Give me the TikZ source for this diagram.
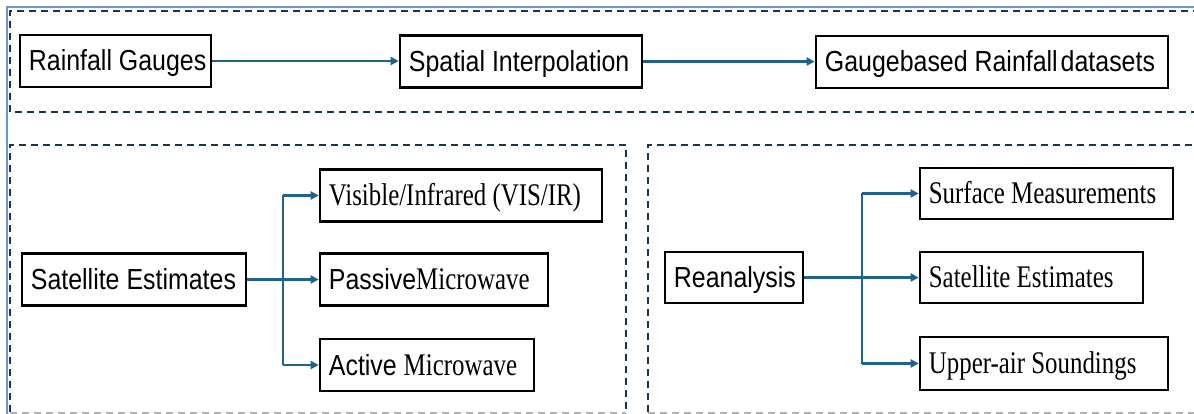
\documentclass[tikz,border=0pt]{standalone}
\usepackage{fontspec}
\setmainfont{Liberation Sans}
\newfontfamily\sansf[FakeStretch=0.86]{Liberation Sans}
\newfontfamily\seriff[FakeStretch=0.79]{Liberation Serif}
\usetikzlibrary{arrows.meta}
\definecolor{arrc}{HTML}{1F6488}
\definecolor{dashc}{HTML}{17364A}
\definecolor{framec}{HTML}{6A95CC}
\tikzset{
  box/.style={draw=black, line width=2.6pt, minimum height=52pt, inner sep=0pt},
  lbl/.style={anchor=base west, xshift=10pt, yshift=-10pt, inner sep=0pt, font=\fontsize{29}{31}\selectfont\sansf},
  sflbl/.style={lbl, font=\fontsize{31.5}{33}\selectfont\seriff},
  arr/.style={draw=arrc, line width=2.2pt, -{Triangle[length=8pt,width=8pt]}},
  brline/.style={draw=arrc, line width=2.2pt},
  mainline/.style={draw=arrc, line width=3.4pt},
  grp/.style={draw=dashc, line width=2.4pt, dash pattern=on 7pt off 5pt},
  grpbot/.style={draw=gray!60, line width=1.8pt, dash pattern=on 7pt off 5pt},
}
\begin{document}
\begin{tikzpicture}[x=1pt,y=-1pt]
\clip (0,0) rectangle (1194,414);
\fill[white] (0,0) rectangle (1194,414);
% outer frame
\draw[framec, line width=2pt] (7,414) -- (7,7) -- (1200,7);
% group frames
\draw[grp] (1200,11) -- (10,11) -- (10,112) -- (1200,112);
\draw[grp] (10,412) -- (10,145) -- (626,145) -- (626,412);
\draw[grpbot] (10,413) -- (626,413);
\draw[grp] (648,412) -- (648,145) -- (1200,145);
\draw[grpbot] (648,413) -- (1200,413);
% top row
\node[box, minimum width=191pt] (rg) at (115.5,61) {};
\node[lbl] (rgt) at (rg.west) {Rainfall Gauges};
\node[box, minimum width=242pt] (si) at (521,61.5) {};
\node[lbl] (sit) at (si.west) {Spatial Interpolation};
\node[box, minimum width=352pt] (gb) at (992,62) {};
\node[lbl] (gbt) at (gb.west) {Gaugebased Rainfall\hspace{-4pt} datasets};
\draw[arr] (rg.east) -- (rg.east -| si.west);
\draw[arr] (si.east) -- (si.east -| gb.west);
% satellite group
\node[box, minimum width=224pt] (se) at (134,279.5) {};
\node[lbl] (set) at (se.west) {Satellite Estimates};
\node[box, minimum width=282pt] (vis) at (461,195.5) {};
\node[sflbl] (vist) at (vis.west) {Visible/Infrared (VIS/IR)};
\node[box, minimum width=228pt] (pm) at (434,279.5) {};
\node[lbl] (pmt) at (pm.west) {Passive{\fontsize{31.5}{33}\selectfont\seriff Microwave}};
\node[box, minimum width=214pt] (am) at (427,365) {};
\node[lbl] (amt) at (am.west) {Active {\fontsize{31.5}{33}\selectfont\seriff Microwave}};
\coordinate (b1) at (283,279.5);
\draw[brline] (b1 |- vis.west) -- (b1 |- am.west);
\draw[mainline] (se.east) -- (b1);
\draw[arr] (b1 |- vis.west) -- (vis.west);
\draw[arr] (b1) -- (pm.west);
\draw[arr] (b1 |- am.west) -- (am.west);
% reanalysis group
\node[box, minimum width=138pt, minimum height=51pt] (re) at (734,277.5) {};
\node[lbl] (ret) at (re.west) {Reanalysis};
\node[box, minimum width=253pt, minimum height=51pt] (sm) at (1046.5,193.5) {};
\node[sflbl] (smt) at (sm.west) {Surface Measurements};
\node[box, minimum width=223pt, minimum height=51pt] (se2) at (1031.5,277.5) {};
\node[sflbl] (se2t) at (se2.west) {Satellite Estimates};
\node[box, minimum width=248pt, minimum height=53pt] (ua) at (1044,363.5) {};
\node[sflbl] (uat) at (ua.west) {Upper-air Soundings};
\coordinate (b2) at (862,277.5);
\draw[brline] (b2 |- sm.west) -- (b2 |- ua.west);
\draw[mainline] (re.east) -- (b2);
\draw[arr] (b2 |- sm.west) -- (sm.west);
\draw[arr] (b2) -- (se2.west);
\draw[arr] (b2 |- ua.west) -- (ua.west);
\end{tikzpicture}
\end{document}
